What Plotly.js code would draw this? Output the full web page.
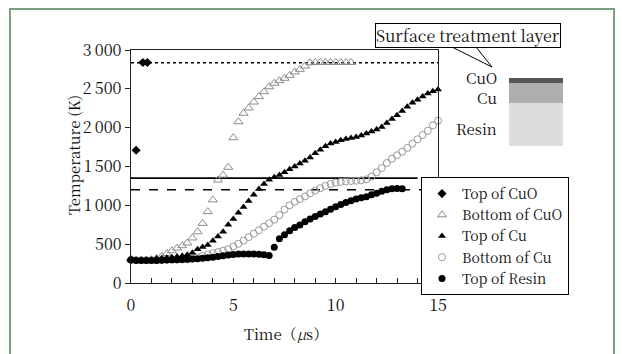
<!DOCTYPE html>
<html>
<head>
<meta charset="utf-8">
<script src="https://cdn.plot.ly/plotly-3.0.1.min.js"></script>
<style>html,body{margin:0;padding:0;background:#fff;}#chart{width:622px;height:354px;}</style>
</head>
<body>
<div id="chart"></div>
<script>
// ---- data (time in microseconds, temperature in K) ----
const seriesNames = ["Top of CuO", "Bottom of CuO", "Top of Cu", "Bottom of Cu", "Top of Resin"];

const tTopCuO = [0, 0.25, 0.58, 0.8];
const TTopCuO = [300, 1710, 2840, 2840];

const tBotCuO = [0,0.25,0.5,0.75,1,1.25,1.5,1.75,2,2.25,2.5,2.75,3,3.25,3.5,3.75,4,4.25,4.5,4.75,5,5.25,5.5,5.75,6,6.25,6.5,6.75,7,7.25,7.5,7.75,8,8.25,8.5,8.75,9,9.25,9.5,9.75,10,10.25,10.5,10.75];
const TBotCuO = [300,295,295,295,300,315,345,380,415,450,480,515,580,660,768,918,1070,1326,1390,1490,1871,2077,2185,2253,2330,2400,2463,2527,2571,2605,2636,2674,2717,2751,2794,2836,2840,2840,2840,2840,2840,2840,2840,2840];

const tTopCu = [0,0.25,0.5,0.75,1,1.25,1.5,1.75,2,2.25,2.5,2.75,3,3.25,3.5,3.75,4,4.25,4.5,4.75,5,5.25,5.5,5.75,6,6.25,6.5,6.75,7,7.25,7.5,7.75,8,8.25,8.5,8.75,9,9.25,9.5,9.75,10,10.25,10.5,10.75,11,11.25,11.5,11.75,12,12.25,12.5,12.75,13,13.25,13.5,13.75,14,14.25,14.5,14.75,15];
const TTopCu = [300,295,295,295,300,315,320,325,330,340,350,365,390,435,465,490,545,600,660,750,825,905,980,1055,1135,1210,1275,1330,1360,1390,1425,1465,1500,1540,1575,1615,1670,1715,1760,1795,1815,1837,1855,1867,1880,1900,1925,1950,1975,2010,2060,2110,2160,2215,2270,2320,2360,2400,2440,2470,2490];

const tBotCu = [0,0.25,0.5,0.75,1,1.25,1.5,1.75,2,2.25,2.5,2.75,3,3.25,3.5,3.75,4,4.25,4.5,4.75,5,5.25,5.5,5.75,6,6.25,6.5,6.75,7,7.25,7.5,7.75,8,8.25,8.5,8.75,9,9.25,9.5,9.75,10,10.25,10.5,10.75,11,11.25,11.5,11.75,12,12.25,12.5,12.75,13,13.25,13.5,13.75,14,14.25,14.5,14.75,15];
const TBotCu = [300,295,295,295,295,295,298,300,300,302,303,305,315,330,350,370,385,400,415,435,470,505,545,590,635,680,725,770,815,875,945,1000,1045,1080,1115,1155,1190,1220,1250,1275,1293,1302,1308,1313,1317,1322,1335,1370,1425,1480,1545,1600,1645,1690,1740,1795,1850,1905,1960,2030,2090];

const tResin = [0,0.25,0.5,0.75,1,1.25,1.5,1.75,2,2.25,2.5,2.75,3,3.25,3.5,3.75,4,4.25,4.5,4.75,5,5.25,5.5,5.75,6,6.25,6.5,6.75,7,7.25,7.5,7.75,8,8.25,8.5,8.75,9,9.25,9.5,9.75,10,10.25,10.5,10.75,11,11.25,11.5,11.75,12,12.25,12.5,12.75,13,13.25];
const TResin = [295,290,290,290,290,290,292,295,298,300,303,305,308,312,318,325,332,340,350,360,368,372,372,372,372,370,365,355,460,570,620,672,715,748,788,823,855,888,918,950,982,1012,1035,1060,1080,1098,1112,1135,1155,1180,1200,1215,1218,1215];

// reference levels (K) and their time extents
const dottedLevel = 2835, dottedX = [0, 15];
const solidLevel = 1350, solidX = [0, 14];
const dashedLevel = 1200, dashedX = [0, 14.6];

// axis ticks
const xTickVals = [0,1,2,3,4,5,6,7,8,9,10,11,12,13,14,15];
const xTickText = ["0","","","","","5","","","","","10","","","","","15"];
const yTickVals = [0, 500, 1000, 1500, 2000, 2500, 3000];
const yTickText = ["0", "500", "1\u2009000", "1\u2009500", "2\u2009000", "2\u2009500", "3\u2009000"];

// titles and layer diagram labels
const xTitle = "Time\uFF08<i>μ</i>s\uFF09";
const yTitle = "Temperature (K)";
const calloutText = "Surface treatment layer";
const layerLabels = ["CuO", "Cu", "Resin"];

// ---- build ----
const F = "Noto Serif CJK JP";
function hline(level, xr, dash) {
  return {x: xr, y: [level, level], mode: "lines", showlegend: false, hoverinfo: "skip",
          line: {color: "#000", width: 1.6, dash: dash}, cliponaxis: false};
}
const traces = [
  hline(dottedLevel, dottedX, "dot"),
  hline(solidLevel, solidX, "solid"),
  hline(dashedLevel, dashedX, "dash"),
  {x: tBotCuO, y: TBotCuO, name: seriesNames[1], mode: "markers", legendrank: 2, cliponaxis: false,
   marker: {symbol: "triangle-up-open", size: 8, color: "#8c8c8c", line: {width: 1}}},
  {x: tBotCu, y: TBotCu, name: seriesNames[3], mode: "markers", legendrank: 4, cliponaxis: false,
   marker: {symbol: "circle-open", size: 7, color: "#9a9a9a", line: {width: 1}}},
  {x: tTopCu, y: TTopCu, name: seriesNames[2], mode: "markers", legendrank: 3, cliponaxis: false,
   marker: {symbol: "triangle-up", size: 7, color: "#000"}},
  {x: tResin, y: TResin, name: seriesNames[4], mode: "markers", legendrank: 5, cliponaxis: false,
   marker: {symbol: "circle", size: 7, color: "#000"}},
  {x: tTopCuO, y: TTopCuO, name: seriesNames[0], mode: "markers", legendrank: 1, cliponaxis: false,
   marker: {symbol: "diamond", size: 7, color: "#000"}}
];

// pixel -> paper helpers (plot area: left 131, right 438, top 50, bottom 283)
const PL = 131, PR = 438, PT = 50, PB = 283;
const px = v => (v - PL) / (PR - PL);
const py = v => (PB - v) / (PB - PT);

const layout = {
  width: 622, height: 354,
  margin: {l: PL, r: 622 - PR, t: PT, b: 354 - PB, pad: 0},
  paper_bgcolor: "#fff", plot_bgcolor: "#fff",
  font: {family: F, size: 15, color: "#111"},
  showlegend: true,
  xaxis: {
    range: [0, 15], showgrid: false, zeroline: false,
    showline: true, linecolor: "#222", linewidth: 1.3, mirror: true,
    ticks: "inside", ticklen: 5, tickcolor: "#222",
    tickmode: "array", tickvals: xTickVals, ticktext: xTickText,
    tickfont: {family: F, size: 16}, ticklabelstandoff: 7
  },
  yaxis: {
    range: [0, 3000], showgrid: false, zeroline: false,
    showline: true, linecolor: "#222", linewidth: 1.3, mirror: true,
    ticks: "outside", ticklen: 5, tickcolor: "#222",
    tickmode: "array", tickvals: yTickVals, ticktext: yTickText,
    tickfont: {family: F, size: 16}
  },
  legend: {
    x: px(421), y: py(177), xanchor: "left", yanchor: "top",
    bgcolor: "#fff", bordercolor: "#000", borderwidth: 1,
    font: {family: F, size: 14}, tracegroupgap: 0, itemwidth: 30
  },
  shapes: [
    // outer green frame
    {type: "rect", xref: "paper", yref: "paper", x0: px(10), x1: px(614), y0: py(380), y1: py(9),
     line: {color: "#7aa07f", width: 2}, fillcolor: "rgba(0,0,0,0)", layer: "below"},
    // callout
    {type: "path", xref: "paper", yref: "paper",
     path: "M " + px(452) + "," + py(47) + " L " + px(492) + "," + py(67) + " L " + px(476) + "," + py(47),
     line: {color: "#000", width: 1}},
    // layer stack
    {type: "rect", xref: "paper", yref: "paper", x0: px(509), x1: px(563), y0: py(146), y1: py(103),
     line: {width: 0}, fillcolor: "#dcdddd"},
    {type: "rect", xref: "paper", yref: "paper", x0: px(509), x1: px(563), y0: py(103), y1: py(83),
     line: {width: 0}, fillcolor: "#afafaf"},
    {type: "rect", xref: "paper", yref: "paper", x0: px(509), x1: px(563), y0: py(83), y1: py(78),
     line: {width: 0}, fillcolor: "#565656"}
  ],
  annotations: [
    {xref: "paper", yref: "paper", x: px(286), y: py(333), xanchor: "center", yanchor: "middle",
     text: xTitle, showarrow: false, font: {family: F, size: 15}},
    {xref: "paper", yref: "paper", x: px(73), y: py(155), xanchor: "center", yanchor: "middle",
     text: yTitle, textangle: -90, showarrow: false, font: {family: F, size: 15}},
    {xref: "paper", yref: "paper", x: px(468), y: py(35.5), xanchor: "center", yanchor: "middle",
     text: calloutText, showarrow: false, font: {family: F, size: 16, color: "#111"},
     bgcolor: "#fff", bordercolor: "#000", borderwidth: 1, borderpad: 0},
    {xref: "paper", yref: "paper", x: px(499), y: py(77), xanchor: "right", yanchor: "middle",
     text: layerLabels[0], showarrow: false, font: {family: F, size: 15}},
    {xref: "paper", yref: "paper", x: px(499), y: py(97), xanchor: "right", yanchor: "middle",
     text: layerLabels[1], showarrow: false, font: {family: F, size: 15}},
    {xref: "paper", yref: "paper", x: px(499), y: py(128), xanchor: "right", yanchor: "middle",
     text: layerLabels[2], showarrow: false, font: {family: F, size: 15}}
  ]
};

Plotly.newPlot("chart", traces, layout, {staticPlot: true, displayModeBar: false});
</script>
</body>
</html>
